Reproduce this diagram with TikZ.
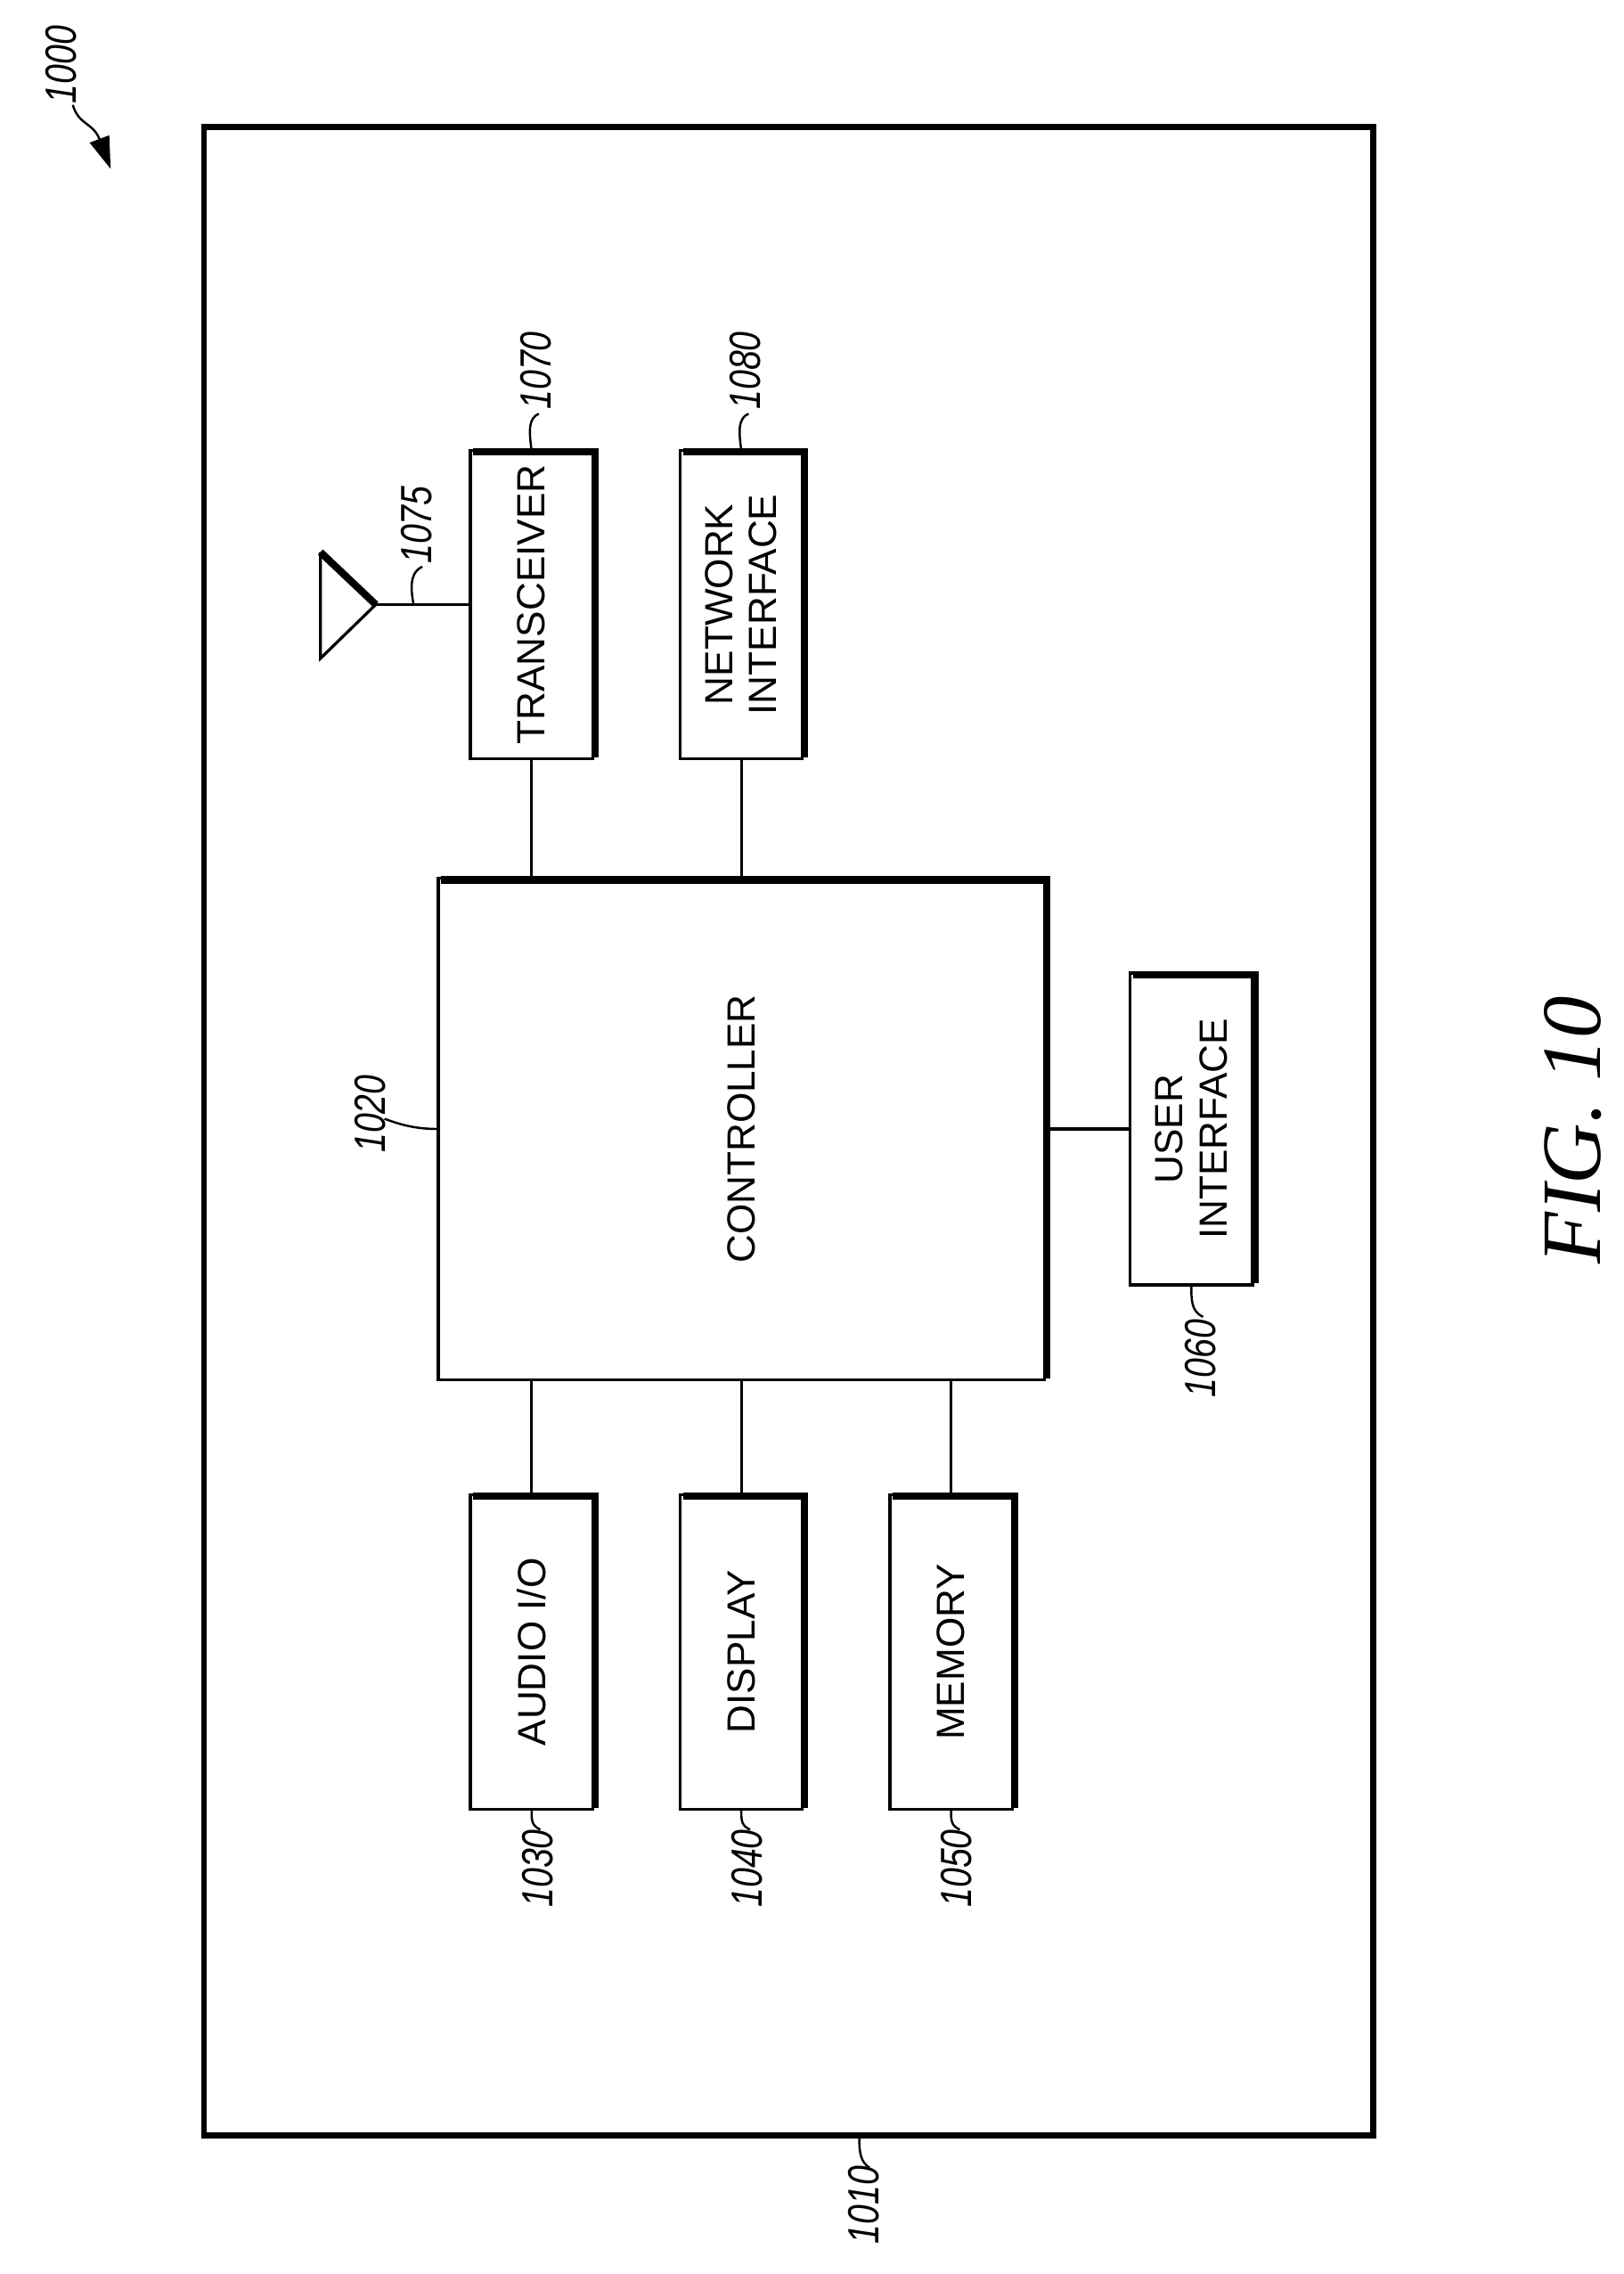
\documentclass[tikz,border=0pt]{standalone}
\usepackage{fontspec}
\setmainfont{Liberation Sans}
\newfontfamily\figfont{Liberation Serif}
\usetikzlibrary{arrows.meta}
\begin{document}
\begin{tikzpicture}[x=1pt,y=-1pt,
  box/.style={draw,line width=2pt,minimum width=84pt,minimum height=212pt,inner sep=0pt,outer sep=0pt},
  txt/.style={rotate=90,font=\fontsize{27}{30}\selectfont,align=center},
  lab/.style={rotate=90,font=\itshape\fontsize{30}{32}\selectfont,xscale=0.8,inner sep=1pt},
  wire/.style={line width=2pt},
  lead/.style={line width=1.5pt}]
\useasboundingbox (0,0) rectangle (1115,1561);
% frame
\node[draw,line width=4pt,minimum width=803pt,minimum height=1379pt,inner sep=0pt] (frame) at (541.5,776.5) {};
% boxes
\node[box] (tx) at (365,415) {};
\node[box] (ni) at (509,415) {};
\node[box,minimum width=416pt,minimum height=344pt] (ctl) at (509,775) {};
\node[box,minimum height=214pt] (ui) at (818,775) {};
\node[box,minimum height=216pt] (au) at (365,1134) {};
\node[box,minimum height=216pt] (di) at (509,1134) {};
\node[box,minimum height=216pt] (me) at (653,1134) {};
\foreach \n in {tx,ni,ctl,ui,au,di,me}{
  \draw[line width=5pt] ([xshift=2pt,yshift=-1pt]\n.north west) -- ([xshift=1.5pt,yshift=-1pt]\n.north east) -- ([xshift=1.5pt,yshift=1pt]\n.south east);
}
\node[txt] (ttx) at (tx) {TRANSCEIVER};
\node[txt] (tni) at (ni) {NETWORK\\INTERFACE};
\node[txt] (tctl) at (ctl) {CONTROLLER};
\node[txt] (tui) at (ui) {USER\\INTERFACE};
\node[txt] (tau) at (au) {AUDIO I/O};
\node[txt] (tdi) at (di) {DISPLAY};
\node[txt] (tme) at (me) {MEMORY};
% connectors
\draw[wire] (tx.south) -- (tx.south |- ctl.north);
\draw[wire] (ni.south) -- (ni.south |- ctl.north);
\draw[wire] (au.north) -- (au.north |- ctl.south);
\draw[wire] (di.north) -- (di.north |- ctl.south);
\draw[wire] (me.north) -- (me.north |- ctl.south);
\draw[wire] (ui.west) -- (ui.west -| ctl.east);
% antenna
\coordinate (tip) at (258,415);
\draw[line width=2pt] (tip) -- (220,452) -- (220,379);
\draw[line width=5pt] (220,379) -- (tip);
\draw[wire] (tip) -- (tx.west);
% labels
\node[lab,anchor=west] (l1075) at (286,388) {1075};
\draw[lead] (284,415) .. controls (281,400) and (283,392) .. (290,389);
\node[lab,anchor=west] (l1070) at (368,282) {1070};
\draw[lead] (tx.north) .. controls (363,295) and (363,287) .. (370,284);
\node[lab,anchor=west] (l1080) at (512,282) {1080};
\draw[lead] (ni.north) .. controls (507,295) and (507,287) .. (514,284);
\node[lab,anchor=east] (l1020) at (254,737) {1020};
\draw[lead] (ctl.west) .. controls (285,775) and (275,772) .. (264,768);
\node[lab,anchor=east] (l1060) at (824,905) {1060};
\draw[lead] (ui.south) .. controls (818,893) and (818,900) .. (826,904);
\node[lab,anchor=east] (l1030) at (369,1255) {1030};
\draw[lead] (au.south) .. controls (365,1250) and (365,1253) .. (371,1256);
\node[lab,anchor=east] (l1040) at (513,1255) {1040};
\draw[lead] (di.south) .. controls (509,1250) and (509,1253) .. (515,1256);
\node[lab,anchor=east] (l1050) at (657,1255) {1050};
\draw[lead] (me.south) .. controls (653,1250) and (653,1253) .. (659,1256);
\node[lab,anchor=east] (l1010) at (593,1486) {1010};
\draw[lead] (590,1468) .. controls (590,1478) and (591,1484) .. (597,1488);
\node[lab,anchor=west] (l1000) at (42,72) {1000};
\coordinate (a0) at (50,72);
\coordinate (a1) at (76,116);
\draw[lead,-{Triangle[length=22pt,width=14pt]}] (a0) .. controls (54,86) and (64,84) .. (a1);
\node[rotate=90,font=\figfont\itshape\fontsize{58}{60}\selectfont] (fig) at (1080,776) {FIG. 10};
\end{tikzpicture}
\end{document}
